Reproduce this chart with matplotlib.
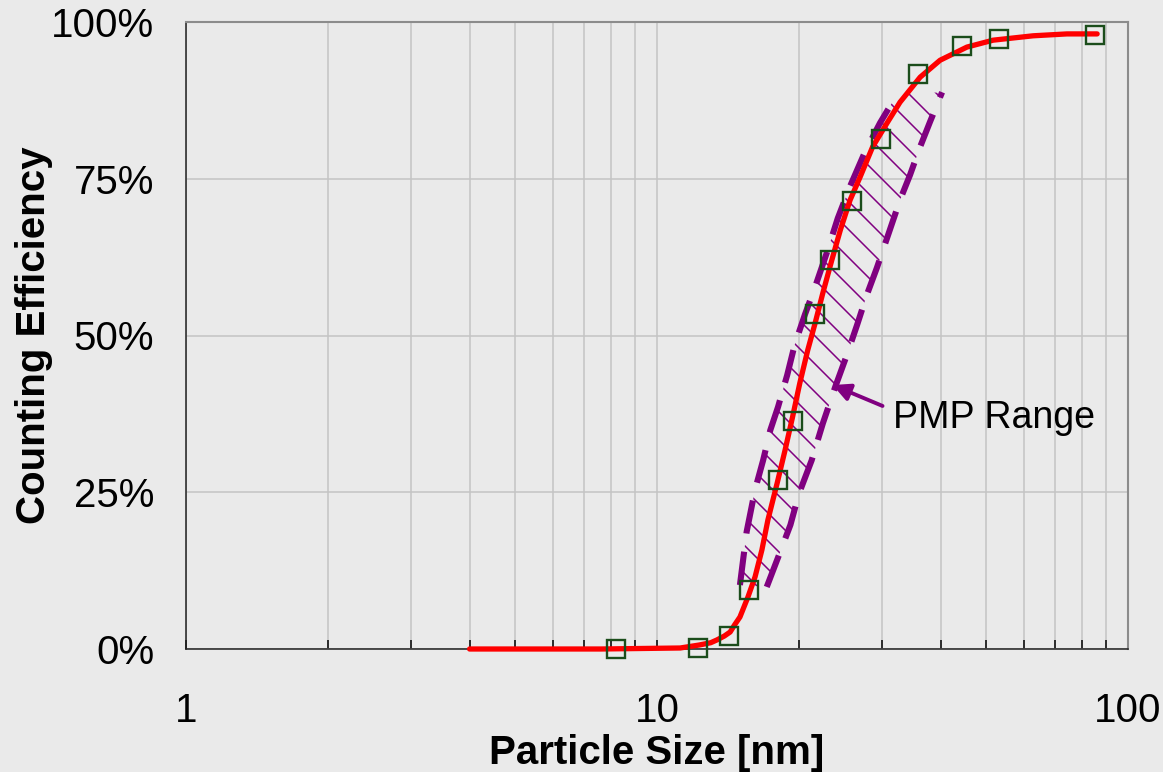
import numpy as np
import matplotlib.pyplot as plt
from matplotlib.collections import LineCollection
from matplotlib.patches import Polygon
from matplotlib.transforms import IdentityTransform

plt.rcParams['font.family'] = ['Liberation Sans', 'DejaVu Sans']

# measured counting efficiency (squares)
meas_size = [8.2, 12.2, 14.2, 15.7, 18.1, 19.4, 21.7, 23.3, 25.9, 29.9, 35.8, 44.4, 53.2, 85.1]
meas_eff = [0.0, 0.1, 2.1, 9.4, 27.0, 36.4, 53.4, 62.0, 71.5, 81.3, 91.7, 96.2, 97.3, 97.9]

# fitted curve (red)
fit_size = [4.0, 7.6, 11.2, 12.3, 13.0, 13.4, 13.9, 14.3, 14.6, 15.0, 15.6, 16.15, 16.7,
            17.2, 18.0, 18.7, 19.4, 20.1, 20.9, 21.65, 22.5, 23.5, 24.5, 25.7, 27.0,
            28.7, 30.8, 32.8, 36.2, 39.9, 45.5, 51.7, 62.9, 74.2, 86.0]
fit_eff = [0.0, 0.0, 0.16, 0.64, 1.0, 1.44, 2.07, 2.71, 3.8, 5.1, 8.3, 11.5, 15.8,
           20.6, 26.5, 31.7, 37.0, 42.4, 47.7, 51.9, 56.8, 62.0, 66.8, 71.6, 75.3,
           80.1, 83.9, 87.2, 91.2, 93.9, 96.0, 97.1, 97.8, 98.1, 98.1]

# PMP range band, left (small size) and right (large size) limits
pmp_lo_size = [15.0, 15.5, 16.15, 16.8, 17.4, 18.07, 18.9, 19.6, 20.6, 21.65, 22.96,
               24.2, 25.7, 27.65, 29.75, 32.3]
pmp_lo_eff = [10.2, 18.7, 25.4, 30.1, 34.9, 38.6, 43.7, 48.5, 53.3, 57.7, 63.3,
              68.7, 73.8, 79.3, 83.9, 88.4]
pmp_hi_size = [17.1, 18.2, 19.2, 20.0, 21.3, 22.5, 23.9, 25.3, 26.6, 27.9, 29.3,
               31.2, 32.8, 34.45, 36.2, 38.0, 40.3]
pmp_hi_eff = [9.9, 15.2, 19.8, 24.7, 30.1, 36.0, 41.8, 46.9, 51.7, 56.5, 60.8,
              66.8, 71.6, 75.6, 80.1, 84.1, 88.8]

x_major = [1, 10, 100]
x_minor = [2, 3, 4, 5, 6, 7, 8, 9, 20, 30, 40, 50, 60, 70, 80, 90]
y_ticks = [0, 25, 50, 75, 100]

bg = '#EAEAEA'
purple = '#800080'

fig = plt.figure(figsize=(11.63, 7.72), dpi=100, facecolor=bg)
ax = fig.add_axes([186 / 1163, 123 / 772, 942 / 1163, 627 / 772])
ax.set_facecolor(bg)
ax.set_xscale('log')
ax.set_xlim(1, 100)
ax.set_ylim(0, 100)

ax.set_xticks(x_major, [str(v) for v in x_major])
ax.set_xticks(x_minor, minor=True)
ax.set_xticklabels([], minor=True)
ax.set_yticks(y_ticks, [f'{v}%' for v in y_ticks])
ax.set_axisbelow(True)
ax.grid(True, which='both', axis='x', color='#C4C4C4', lw=1.1)
ax.grid(True, which='major', axis='y', color='#C4C4C4', lw=1.1)
ax.tick_params(axis='x', which='both', direction='in', length=6.5, width=1.1,
               color='black', labelsize=29, pad=31)
ax.tick_params(axis='y', length=0, labelsize=29, pad=23)

for side in ['left', 'bottom']:
    ax.spines[side].set_color('#202020')
    ax.spines[side].set_linewidth(1.1)
for side in ['top', 'right']:
    ax.spines[side].set_color('#8C8C8C')
    ax.spines[side].set_linewidth(1.5)

# band outline (dashed) and hatch clipped to the band
band_pts = list(zip(pmp_lo_size, pmp_lo_eff)) + list(zip(pmp_hi_size, pmp_hi_eff))[::-1]
band = Polygon(band_pts, closed=True, facecolor='none', edgecolor='none')
ax.add_patch(band)

pix = ax.transData.transform(band_pts)
x0, y0 = pix.min(axis=0) - 5
x1, y1 = pix.max(axis=0) + 5
segs = []
for c in np.arange(x0 + y0, x1 + y1, 28):
    segs.append([(x0, c - x0), (x1, c - x1)])
hatch = LineCollection(segs, colors=purple, linewidths=1.1, transform=IdentityTransform())
ax.add_collection(hatch)
hatch.set_clip_path(band)

for xs, ys in [(pmp_lo_size, pmp_lo_eff), (pmp_hi_size, pmp_hi_eff)]:
    ax.plot(xs, ys, color=purple, lw=4.4, dashes=(5.5, 3.0), solid_capstyle='butt',
            dash_capstyle='butt')

ax.plot(fit_size, fit_eff, color='red', lw=3.8, clip_on=False, zorder=4,
        solid_capstyle='round')
ax.plot(meas_size, meas_eff, ls='none', marker='s', ms=13, mfc='none', mec='#1B4D1B',
        mew=1.7, clip_on=False, zorder=5)

ax.annotate('PMP Range', xy=(23.6, 42.1), xytext=(31.7, 36.8), fontsize=27,
            ha='left', va='center',
            arrowprops=dict(arrowstyle='-|>', color=purple, lw=2.8, mutation_scale=26,
                            relpos=(0, 0.72), shrinkA=6, shrinkB=0))

ax.set_xlabel('Particle Size [nm]', fontsize=29, fontweight='bold')
ax.xaxis.set_label_coords(0.5, -0.135)
ax.set_ylabel('Counting Efficiency', fontsize=29, fontweight='bold')
ax.yaxis.set_label_coords(-0.141, 0.5)

fig.savefig('out.png', dpi=100, facecolor=bg)
